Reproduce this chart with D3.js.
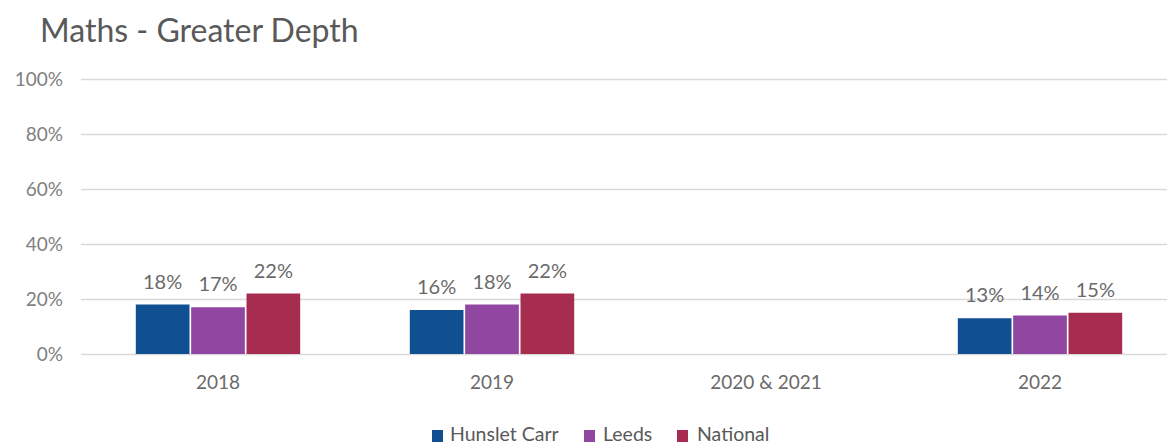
<!DOCTYPE html>
<html>
<head>
<meta charset="utf-8">
<script src="https://cdn.jsdelivr.net/npm/d3@7/dist/d3.min.js"></script>
<style>
  html, body { margin: 0; padding: 0; background: #fff; }
  svg { display: block; font-family: Lato, "Open Sans", sans-serif; }
</style>
</head>
<body>
<svg id="chart" width="1167" height="444"></svg>
<script>
// Years on the category axis
const categories = ["2018", "2019", "2020 & 2021", "2022"];
// Series names and colours
const seriesNames = ["Hunslet Carr", "Leeds", "National"];
const seriesColors = ["#0F4F92", "#9147A2", "#A72D50"];
// Percentage of pupils at greater depth (null = no data)
const hunsletCarr = [18, 16, null, 13];
const leeds = [17, 18, null, 14];
const national = [22, 22, null, 15];
// Value-axis ticks
const yTicks = [0, 20, 40, 60, 80, 100];

const seriesValues = [hunsletCarr, leeds, national];

const svg = d3.select("#chart");
const W = 1167, H = 444;
const plotLeft = 81, plotRight = 1177, plotTop = 79, plotBottom = 354;

const x0 = d3.scaleBand().domain(categories).range([plotLeft, plotRight])
  .paddingInner(0.4).paddingOuter(0.2);
const x1 = d3.scaleBand().domain(seriesNames).range([0, x0.bandwidth()])
  .paddingInner(0.03);
const y = d3.scaleLinear().domain([0, 100]).range([plotBottom, plotTop]);

// Title
svg.append("text")
  .attr("x", 40).attr("y", 42)
  .attr("fill", "#595959")
  .attr("font-size", 32)
  .text("Maths - Greater Depth");

// Gridlines and value-axis labels
const yAxis = d3.axisLeft(y).tickValues(yTicks)
  .tickSize(-(W - plotLeft)).tickFormat(d => d + "%").tickPadding(18);
const gy = svg.append("g").attr("transform", `translate(${plotLeft},0)`).call(yAxis);
gy.select(".domain").remove();
gy.selectAll(".tick line").attr("stroke", "#d9d9d9").attr("stroke-width", 1.3);
gy.selectAll(".tick text").attr("fill", "#808080").attr("font-size", 19)
  .attr("font-family", "Lato, sans-serif");

// Category-axis labels
const xAxis = d3.axisBottom(x0).tickSize(0).tickPadding(22);
const gx = svg.append("g").attr("transform", `translate(0,${plotBottom})`).call(xAxis);
gx.select(".domain").remove();
gx.selectAll(".tick text").attr("fill", "#6a6a6a").attr("font-size", 19)
  .attr("font-family", "Lato, sans-serif");

// Bars and data labels
const rows = [];
categories.forEach((c, i) => {
  seriesNames.forEach((s, j) => {
    const v = seriesValues[j][i];
    if (v !== null) rows.push({ cat: c, series: s, value: v, color: seriesColors[j] });
  });
});

svg.append("g").selectAll("rect").data(rows).join("rect")
  .attr("x", d => x0(d.cat) + x1(d.series))
  .attr("y", d => y(d.value))
  .attr("width", x1.bandwidth())
  .attr("height", d => y(0) - y(d.value))
  .attr("fill", d => d.color);

svg.append("g").selectAll("text").data(rows).join("text")
  .attr("x", d => x0(d.cat) + x1(d.series) + x1.bandwidth() / 2)
  .attr("y", d => y(d.value) - 16)
  .attr("text-anchor", "middle")
  .attr("fill", "#6a6a6a")
  .attr("font-size", 20)
  .text(d => d.value + "%");

// Legend
const legendItems = [
  { name: seriesNames[0], color: seriesColors[0], x: 432, tx: 450 },
  { name: seriesNames[1], color: seriesColors[1], x: 584, tx: 603 },
  { name: seriesNames[2], color: seriesColors[2], x: 677, tx: 697 }
];
const lg = svg.append("g");
legendItems.forEach(it => {
  lg.append("rect").attr("x", it.x).attr("y", 430).attr("width", 11).attr("height", 12)
    .attr("fill", it.color);
  lg.append("text").attr("x", it.tx).attr("y", 441)
    .attr("fill", "#595959").attr("font-size", 19.5).text(it.name);
});
</script>
</body>
</html>
